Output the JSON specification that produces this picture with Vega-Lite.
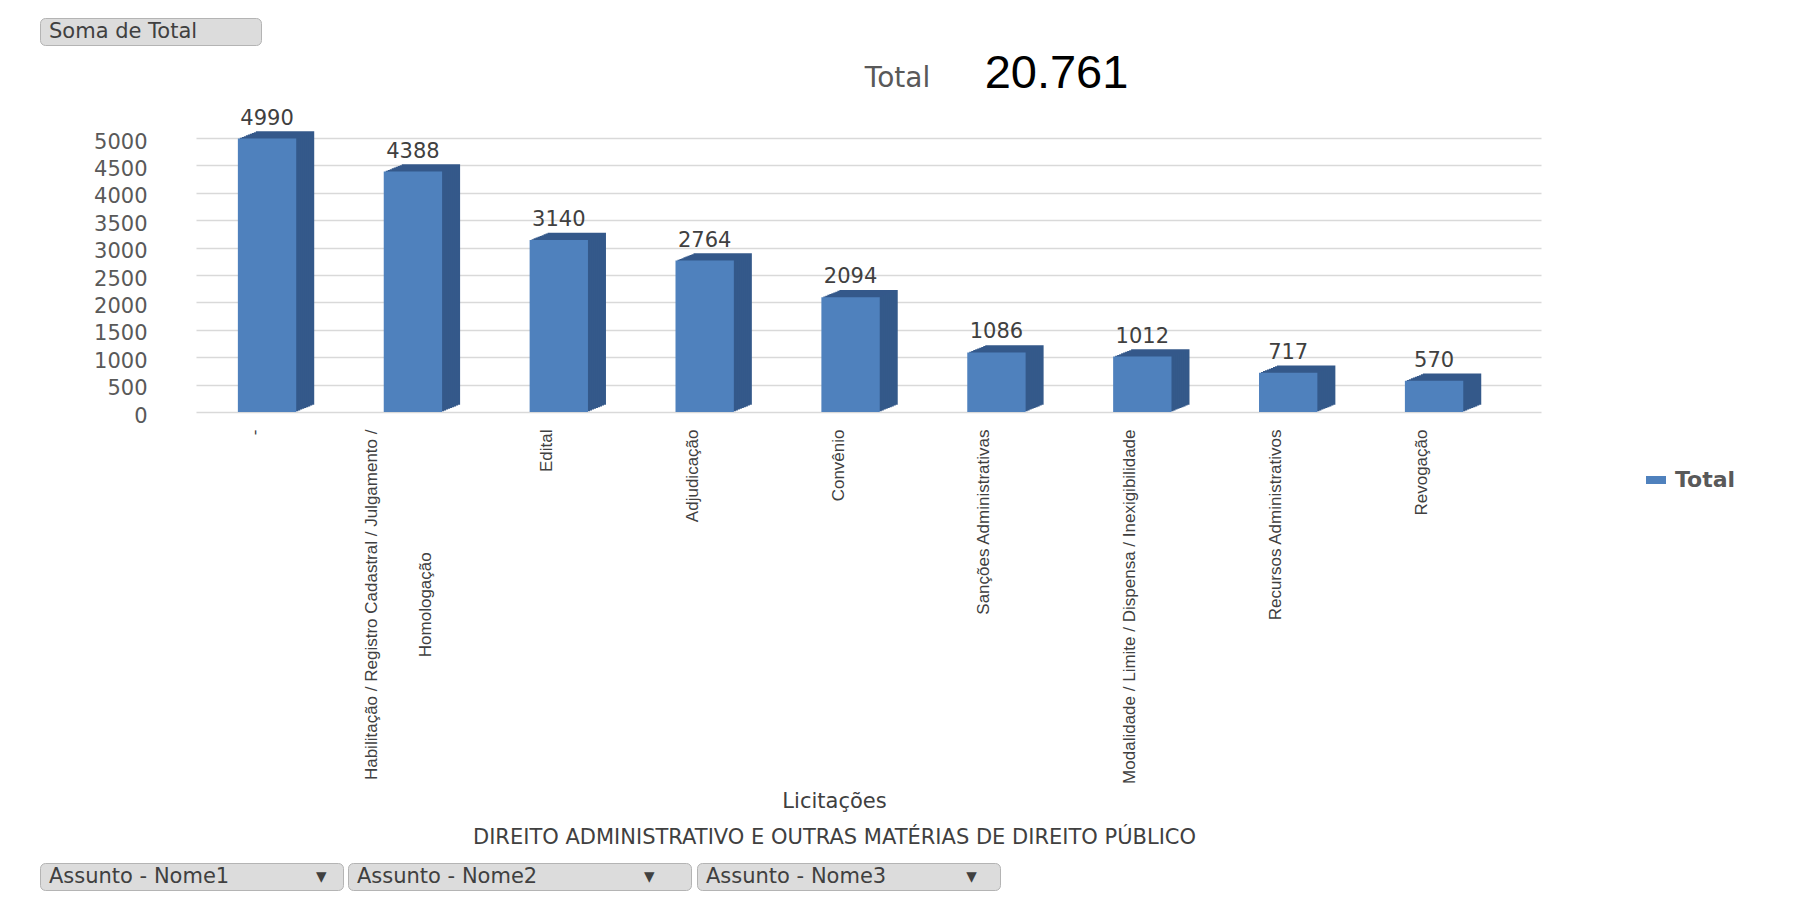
{
  "$schema": "https://vega.github.io/schema/vega-lite/v6.json",
  "width": 1345,
  "height": 274,
  "autosize": {"type": "none"},
  "padding": {"left": 196, "top": 138, "right": 254, "bottom": 485},
  "background": "white",
  "config": {"view": {"stroke": null}, "font": "DejaVu Sans"},
  "data": {"values": [
    {"cat": "-", "Total": 4990},
    {"cat": "Habilitação / Registro Cadastral / Julgamento / Homologação", "Total": 4388},
    {"cat": "Edital", "Total": 3140},
    {"cat": "Adjudicação", "Total": 2764},
    {"cat": "Convênio", "Total": 2094},
    {"cat": "Sanções Administrativas", "Total": 1086},
    {"cat": "Modalidade / Limite / Dispensa / Inexigibilidade", "Total": 1012},
    {"cat": "Recursos Administrativos", "Total": 717},
    {"cat": "Revogação", "Total": 570}
  ]},
  "encoding": {
    "x": {
      "field": "cat", "type": "nominal", "sort": null,
      "scale": {"paddingInner": 0.6, "paddingOuter": 0.41, "align": 0.35},
      "axis": {
        "labelAngle": -90, "labelAlign": "right", "labelBaseline": "middle",
        "labelPadding": 17,
        "labelOffset": {"condition": {"test": "datum.value == 'Habilitação / Registro Cadastral / Julgamento / Homologação'", "value": -41}, "value": -12},
        "labelFont": "Liberation Sans", "labelFontSize": 17, "labelColor": "#404040",
        "labelLimit": 1000, "labelLineHeight": 54,
        "labelExpr": "datum.label == 'Habilitação / Registro Cadastral / Julgamento / Homologação' ? ['Habilitação / Registro Cadastral / Julgamento /', 'Homologação\u00a0\u00a0\u00a0\u00a0\u00a0\u00a0\u00a0\u00a0\u00a0\u00a0\u00a0\u00a0\u00a0\u00a0\u00a0\u00a0\u00a0\u00a0\u00a0\u00a0\u00a0\u00a0\u00a0\u00a0\u00a0\u00a0\u200d'] : datum.label",
        "ticks": false, "domain": false, "grid": false,
        "title": ["Licitações", "DIREITO ADMINISTRATIVO E OUTRAS MATÉRIAS DE DIREITO PÚBLICO"],
        "titleFont": "DejaVu Sans", "titleFontSize": 21, "titleFontWeight": "normal",
        "titleColor": "#404040", "titleX": 638, "titleY": 378,
        "titleAlign": "center", "titleBaseline": "top", "titleLineHeight": 36
      }
    }
  },
  "layer": [
    {
      "mark": {"type": "bar", "color": "#34598A", "xOffset": 18, "yOffset": -7.2, "y2Offset": -7.2},
      "encoding": {"y": {"field": "Total", "type": "quantitative", "scale": {"domain": [0, 5000], "nice": false},
        "axis": {"orient": "right", "labels": false, "ticks": false, "domain": false, "grid": false,
          "title": "20.761", "titleAngle": 0, "titleX": -485, "titleY": -65,
          "titleAlign": "center", "titleBaseline": "middle",
          "titleFont": "Liberation Sans", "titleFontSize": 47, "titleFontWeight": "normal", "titleColor": "#000000"}}}
    },
    {
      "mark": {"type": "bar", "color": "#34598A", "xOffset": 16, "yOffset": -6.4, "y2Offset": -6.4},
      "encoding": {"y": {"field": "Total", "type": "quantitative", "scale": {"domain": [0, 5000], "nice": false}, "axis": null}}
    },
    {
      "mark": {"type": "bar", "color": "#34598A", "xOffset": 14, "yOffset": -5.6, "y2Offset": -5.6},
      "encoding": {"y": {"field": "Total", "type": "quantitative", "scale": {"domain": [0, 5000], "nice": false}, "axis": null}}
    },
    {
      "mark": {"type": "bar", "color": "#34598A", "xOffset": 12, "yOffset": -4.8, "y2Offset": -4.8},
      "encoding": {"y": {"field": "Total", "type": "quantitative", "scale": {"domain": [0, 5000], "nice": false}, "axis": null}}
    },
    {
      "mark": {"type": "bar", "color": "#34598A", "xOffset": 10, "yOffset": -4, "y2Offset": -4},
      "encoding": {"y": {"field": "Total", "type": "quantitative", "scale": {"domain": [0, 5000], "nice": false}, "axis": null}}
    },
    {
      "mark": {"type": "bar", "color": "#34598A", "xOffset": 8, "yOffset": -3.2, "y2Offset": -3.2},
      "encoding": {"y": {"field": "Total", "type": "quantitative", "scale": {"domain": [0, 5000], "nice": false}, "axis": null}}
    },
    {
      "mark": {"type": "bar", "color": "#34598A", "xOffset": 6, "yOffset": -2.4, "y2Offset": -2.4},
      "encoding": {"y": {"field": "Total", "type": "quantitative", "scale": {"domain": [0, 5000], "nice": false}, "axis": null}}
    },
    {
      "mark": {"type": "bar", "color": "#34598A", "xOffset": 4, "yOffset": -1.6, "y2Offset": -1.6},
      "encoding": {"y": {"field": "Total", "type": "quantitative", "scale": {"domain": [0, 5000], "nice": false}, "axis": null}}
    },
    {
      "mark": {"type": "bar", "color": "#34598A", "xOffset": 2, "yOffset": -0.8, "y2Offset": -0.8},
      "encoding": {"y": {"field": "Total", "type": "quantitative", "scale": {"domain": [0, 5000], "nice": false}, "axis": null}}
    },
    {
      "mark": {"type": "bar"},
      "encoding": {
        "y": {"field": "Total", "type": "quantitative", "scale": {"domain": [0, 5000], "nice": false},
          "axis": {"orient": "left", "values": [0, 500, 1000, 1500, 2000, 2500, 3000, 3500, 4000, 4500, 5000], "format": "d",
            "labelFont": "DejaVu Sans", "labelFontSize": 21, "labelColor": "#595959",
            "labelPadding": 49, "labelOffset": 4, "ticks": false, "domain": false,
            "grid": true, "gridColor": "#d9d9d9", "gridWidth": 1.5,
            "title": "Total", "titleAngle": 0, "titleX": 701, "titleY": -60,
            "titleAlign": "center", "titleBaseline": "middle",
            "titleFont": "DejaVu Sans", "titleFontSize": 28, "titleFontWeight": "normal", "titleColor": "#595959"}},
        "color": {"datum": "Total", "scale": {"range": ["#4F81BD"]},
          "legend": {"title": null, "orient": "none", "legendX": 1449, "legendY": 331, "padding": 0,
            "symbolType": "M-1,-0.4H1V0.4H-1Z", "symbolSize": 400, "symbolStrokeWidth": 0,
            "labelOffset": 8, "labelFont": "DejaVu Sans", "labelFontSize": 22, "labelFontWeight": "bold", "labelColor": "#595959"}}
      }
    },
    {
      "mark": {"type": "text", "dy": -20, "baseline": "middle", "font": "DejaVu Sans", "fontSize": 21, "color": "#404040"},
      "encoding": {
        "y": {"field": "Total", "type": "quantitative", "scale": {"domain": [0, 5000], "nice": false}, "axis": null},
        "text": {"field": "Total", "type": "quantitative", "format": "d"}
      }
    },
    {
      "mark": {"type": "point", "opacity": 0},
      "encoding": {
        "shape": {"datum": "Soma de Total",
          "legend": {"title": null, "orient": "none", "legendX": -156, "legendY": -120,
            "fillColor": "#dcdcdc", "strokeColor": "#b4b4b4", "cornerRadius": 5, "padding": 3,
            "symbolSize": 0, "symbolOpacity": 0, "labelOffset": -15,
            "labelFont": "DejaVu Sans", "labelFontSize": 21, "labelColor": "#404040", "labelLimit": 1000,
            "labelExpr": "datum.label + '\u00a0\u00a0\u00a0\u00a0\u00a0\u00a0\u00a0\u00a0\u00a0\u200d'"}}
      }
    },
    {
      "mark": {"type": "point", "opacity": 0},
      "encoding": {
        "fill": {"datum": "Assunto - Nome1",
          "legend": {"title": null, "orient": "none", "legendX": -156, "legendY": 725,
            "fillColor": "#dcdcdc", "strokeColor": "#b4b4b4", "cornerRadius": 5, "padding": 3,
            "symbolSize": 0, "symbolOpacity": 0, "labelOffset": -15,
            "labelFont": "DejaVu Sans", "labelFontSize": 21, "labelColor": "#404040", "labelLimit": 1000,
            "labelExpr": "datum.label + '\u00a0\u00a0\u00a0\u00a0\u00a0\u00a0\u00a0\u00a0\u00a0\u00a0\u00a0\u00a0\u00a0▾\u00a0\u00a0\u200d'"}}
      }
    },
    {
      "mark": {"type": "point", "opacity": 0},
      "encoding": {
        "stroke": {"datum": "Assunto - Nome2",
          "legend": {"title": null, "orient": "none", "legendX": 152, "legendY": 725,
            "fillColor": "#dcdcdc", "strokeColor": "#b4b4b4", "cornerRadius": 5, "padding": 3,
            "symbolSize": 0, "symbolOpacity": 0, "labelOffset": -15,
            "labelFont": "DejaVu Sans", "labelFontSize": 21, "labelColor": "#404040", "labelLimit": 1000,
            "labelExpr": "datum.label + '\u00a0\u00a0\u00a0\u00a0\u00a0\u00a0\u00a0\u00a0\u00a0\u00a0\u00a0\u00a0\u00a0\u00a0\u00a0\u00a0▾\u00a0\u00a0\u00a0\u00a0\u00a0\u200d'"}}
      }
    },
    {
      "mark": {"type": "point", "opacity": 0},
      "encoding": {
        "strokeDash": {"datum": "Assunto - Nome3",
          "legend": {"title": null, "orient": "none", "legendX": 501, "legendY": 725,
            "fillColor": "#dcdcdc", "strokeColor": "#b4b4b4", "cornerRadius": 5, "padding": 3,
            "symbolSize": 0, "symbolOpacity": 0, "labelOffset": -15,
            "labelFont": "DejaVu Sans", "labelFontSize": 21, "labelColor": "#404040", "labelLimit": 1000,
            "labelExpr": "datum.label + '\u00a0\u00a0\u00a0\u00a0\u00a0\u00a0\u00a0\u00a0\u00a0\u00a0\u00a0\u00a0▾\u00a0\u00a0\u00a0\u200d'"}}
      }
    }
  ],
  "resolve": {"scale": {"y": "independent"}}
}
